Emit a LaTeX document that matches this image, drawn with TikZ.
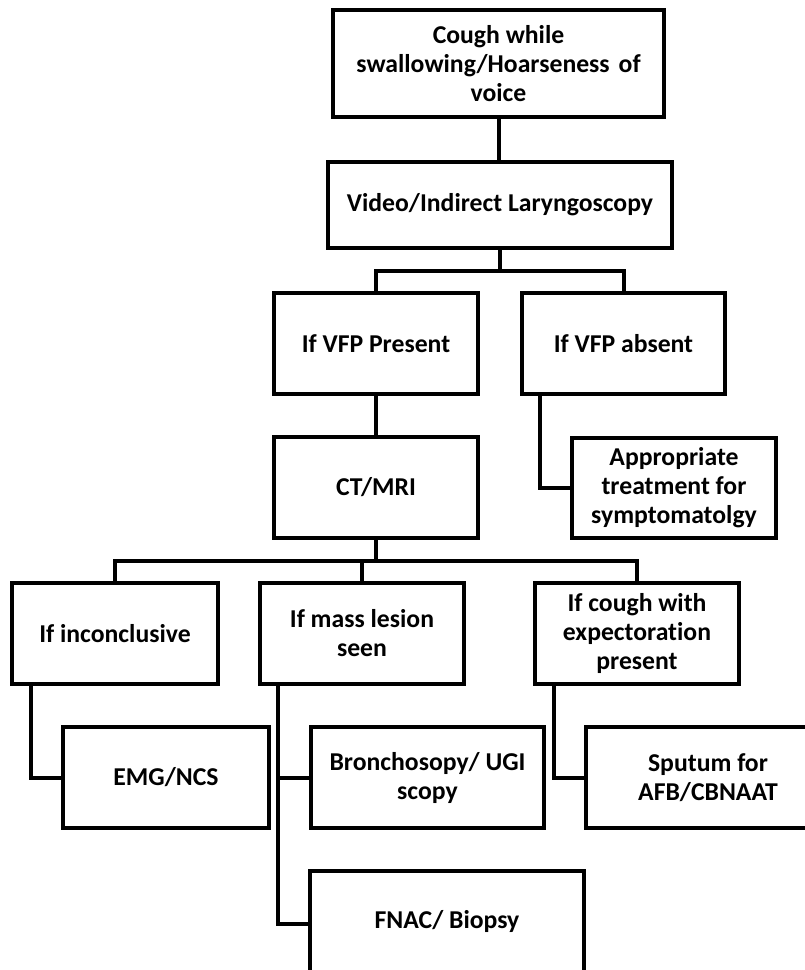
\documentclass[tikz,border=0pt]{standalone}
\usepackage{fontspec}
\setmainfont{Carlito}[Ligatures={NoCommon}]
\begin{document}
\begin{tikzpicture}[x=1pt,y=-1pt,
  box/.style={draw=black,line width=4pt,fill=white,rectangle,inner sep=0pt,align=center,
    font=\bfseries\fontsize{25.7}{29}\selectfont},
  conn/.style={draw=black,line width=4pt}]
\useasboundingbox[fill=white] (0,0) rectangle (805,970);
% nodes
\node[box,minimum width=331pt,minimum height=107pt] (top) at (498.5,63.5) {Cough while\\swallowing/Hoarseness\hspace{9pt}of\\voice};
\node[box,minimum width=344pt,minimum height=86pt] (video) at (500,205) {Video/Indirect Laryngoscopy};
\node[box,minimum width=204pt,minimum height=101pt] (vfpP) at (376,343.5) {If VFP Present};
\node[box,minimum width=203pt,minimum height=101pt] (vfpA) at (623.5,343.5) {If VFP absent};
\node[box,minimum width=204pt,minimum height=101pt] (ct) at (376,487.5) {CT/MRI};
\node[box,minimum width=204pt,minimum height=100pt] (appr) at (674,488) {Appropriate\\treatment for\\symptomatolgy};
\node[box,minimum width=206pt,minimum height=101pt] (inc) at (115,633.5) {If inconclusive};
\node[box,minimum width=204pt,minimum height=101pt] (mass) at (362,633.5) {If mass lesion\\seen};
\node[box,minimum width=204pt,minimum height=101pt] (cough) at (637,633.5) {If cough with\\expectoration\\present};
\node[box,minimum width=206pt,minimum height=101pt] (emg) at (166,777.5) {EMG/NCS};
\node[box,minimum width=233pt,minimum height=101pt] (bron) at (427.5,777.5) {Bronchosopy/ UGI\\scopy};
\node[box,minimum width=244pt,minimum height=101pt] (sput) at (708,777.5) {Sputum for\\AFB/CBNAAT};
\node[box,minimum width=274pt,minimum height=106pt] (fnac) at (447,924) {};
\node[font=\bfseries\fontsize{25.7}{29}\selectfont] (fnact) at (447,921) {FNAC/ Biopsy};
% junctions
\coordinate (j1) at (500,271);
\coordinate (j2) at (376,561);
% connectors
\draw[conn] (top.south) -- (top.south |- video.north);
\draw[conn] (video.south) -- (video.south |- j1);
\draw[conn] (vfpP.north) |- (j1) -| (vfpA.north);
\draw[conn] (vfpP.south) -- (ct.north);
\draw[conn] ([xshift=20pt]vfpA.south west) |- (appr.west);
\draw[conn] (ct.south) -- (j2);
\draw[conn] (inc.north) |- (j2) -| (cough.north);
\draw[conn] (mass.north) -- (mass.north |- j2);
\draw[conn] ([xshift=21pt]inc.south west) |- (emg.west);
\draw[conn] ([xshift=20pt]mass.south west) |- (fnac.west);
\draw[conn] (bron.west) -- ([xshift=20pt]mass.south west |- bron.west);
\draw[conn] ([xshift=21pt]cough.south west) |- (sput.west);
\end{tikzpicture}
\end{document}
